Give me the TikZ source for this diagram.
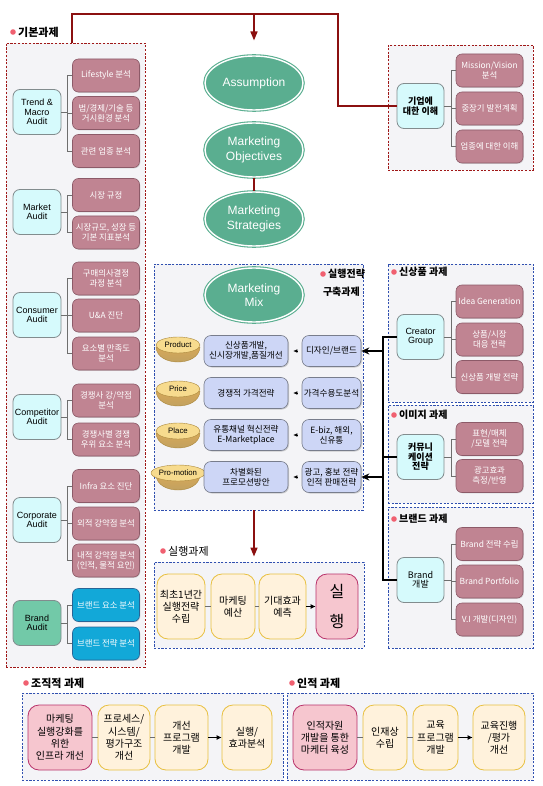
\documentclass[tikz,border=0pt]{standalone}
\usepackage{fontspec}
\setmainfont{Noto Sans CJK KR}
\setsansfont{Liberation Sans}
\usetikzlibrary{shapes.geometric,arrows.meta,shadows}

% colours, named after their RGB values
\definecolor{r139g16b16}{RGB}{139,16,16}
\definecolor{r160g24b24}{RGB}{160,24,24}
\definecolor{r48g80b176}{RGB}{48,80,176}
\definecolor{r244g244b247}{RGB}{244,244,247}
\definecolor{r90g174b144}{RGB}{90,174,144}
\definecolor{r192g132b146}{RGB}{192,132,146}
\definecolor{r140g90b104}{RGB}{140,90,104}
\definecolor{r214g250b252}{RGB}{214,250,252}
\definecolor{r130g140b142}{RGB}{130,140,142}
\definecolor{r205g214b246}{RGB}{205,214,246}
\definecolor{r120g125b140}{RGB}{120,125,140}
\definecolor{r255g242b220}{RGB}{255,242,220}
\definecolor{r232g192b64}{RGB}{232,192,64}
\definecolor{r246g198b207}{RGB}{246,198,207}
\definecolor{r184g50b106}{RGB}{184,50,106}
\definecolor{r114g201b168}{RGB}{114,201,168}
\definecolor{r18g168b216}{RGB}{18,168,216}
\definecolor{r40g100b150}{RGB}{40,100,150}
\definecolor{r247g219b142}{RGB}{247,219,142}
\definecolor{r214g168b88}{RGB}{214,168,88}
\definecolor{r170g135b60}{RGB}{170,135,60}
\definecolor{r240g96b112}{RGB}{240,96,112}
\definecolor{r110g110b110}{RGB}{110,110,110}

% font sizes
\newcommand\fsub{\fontsize{8.4}{10}\selectfont}
\newcommand\fnode{\fontsize{9}{9.5}\selectfont}
\newcommand\fell{\sffamily\fontsize{12}{14.5}\selectfont}
\newcommand\fttl{\fontsize{11}{13}\selectfont\bfseries}
\newcommand\fttr{\fontsize{10}{12}\selectfont\bfseries}
\newcommand\fmix{\fontsize{8.6}{10}\selectfont}
\newcommand\fexe{\fontsize{10}{12.2}\selectfont}
\newcommand\fbowl{\sffamily\fontsize{7.8}{8}\selectfont}

\begin{document}
\begin{tikzpicture}[x=1pt,y=-1pt,
  panel/.style={rectangle,fill=r244g244b247,line width=0.9pt,
    dash pattern=on 2.2pt off 1.5pt,inner sep=0pt},
  redpanel/.style={panel,draw=r160g24b24},
  bluepanel/.style={panel,draw=r48g80b176},
  ttl/.style={anchor=west,font=\fttl,inner sep=0pt},
  ttr/.style={ttl,font=\fttr},
  bul/.style={fill=r240g96b112},
  audit/.style={draw=r130g140b142,fill=r214g250b252,rounded corners=7pt,
    line width=0.8pt,minimum width=48,minimum height=45,align=center,
    font=\fnode,inner sep=0.3pt},
  eaudit/.style={audit,font=\sffamily\fnode},
  sub/.style={draw=r140g90b104,fill=r192g132b146,text=white,
    rounded corners=6pt,minimum width=67,minimum height=33,align=center,
    font=\fsub,inner sep=0.3pt,line width=0.6pt,
    drop shadow={shadow xshift=0.8pt,shadow yshift=-0.8pt,opacity=0.3}},
  bsub/.style={sub,draw=r40g100b150,fill=r18g168b216},
  mkt/.style={ellipse,fill=r90g174b144,draw=r90g174b144,double=white,
    double distance=1.4pt,line width=1.1pt,text=white,minimum width=98,
    minimum height=54,align=center,font=\fell,inner sep=0pt},
  mixbox/.style={draw=r120g125b140,fill=r205g214b246,rounded corners=7pt,
    minimum height=31,align=center,font=\fmix,inner sep=0.3pt,line width=0.6pt,
    drop shadow={shadow xshift=1pt,shadow yshift=-1pt,opacity=0.35}},
  bowltop/.style={ellipse,draw=r170g135b60,fill=r247g219b142,
    minimum width=44,minimum height=16,inner sep=0pt,font=\fbowl},
  bowlbody/.style={draw=r170g135b60,top color=r214g168b88,
    bottom color=r170g135b60!80},
  exe/.style={draw=r232g192b64,fill=r255g242b220,rounded corners=11pt,
    minimum height=65,align=center,font=\fexe,inner sep=0.3pt,line width=0.8pt},
  hot/.style={exe,draw=r184g50b106,fill=r246g198b207},
  brk/.style={draw=r110g110b110,line width=0.8pt},
  redln/.style={draw=r139g16b16,line width=1.6pt},
  blk/.style={draw=black,line width=1.2pt},
  redtip/.style={-{Triangle[length=9pt,width=7pt]}},
  blktip/.style={-{Stealth[length=8pt,width=7pt]}},
  smarr/.style={-{Latex[length=4pt,width=3.5pt]},draw=black,line width=0.5pt,
    shorten >=5pt,shorten <=5pt}]

% Bounding box
\useasboundingbox (0,0) rectangle (542,786);

% Drawing panels
\node[redpanel,minimum width=139,minimum height=624] (basic) at (75.5,355) {};
\node[redpanel,minimum width=145,minimum height=125] (corpp) at (460.5,107.5) {};
\node[bluepanel,minimum width=209,minimum height=246] (mixp) at (258.5,387) {};
\node[bluepanel,minimum width=145,minimum height=138] (newp) at (460.5,333) {};
\node[bluepanel,minimum width=145,minimum height=98] (imgp) at (460.5,454) {};
\node[bluepanel,minimum width=145,minimum height=141] (brdp) at (460.5,577.5) {};
\node[bluepanel,minimum width=210,minimum height=86] (exep) at (259,605) {};
\node[bluepanel,minimum width=261,minimum height=87] (orgp) at (152.5,736.5) {};
\node[bluepanel,minimum width=246,minimum height=87] (hump) at (410,736.5) {};

% Marking panel titles
\fill[bul] (13,32) circle (2.8);
\node[ttl] (tbasic) at (18,32) {기본과제};
\fill[bul] (323,274) circle (2.8);
\node[ttr] (tmix) at (328,274) {실행전략};
\node[ttr,anchor=east] (tmix2) at (360,292) {구축과제};
\fill[bul] (394,272) circle (2.8);
\node[ttr] (tnew) at (399,272) {신상품 과제};
\fill[bul] (394,415) circle (2.8);
\node[ttr] (timg) at (399,415) {이미지 과제};
\fill[bul] (394,519) circle (2.8);
\node[ttr] (tbrd) at (399,519) {브랜드 과제};
\fill[bul] (163,551) circle (2.8);
\node[ttl,font=\fontsize{11}{13}\selectfont] (texe) at (168,551) {실행과제};
\fill[bul] (26,683) circle (2.8);
\node[ttl] (torg) at (31,683) {조직적 과제};
\fill[bul] (292,683) circle (2.8);
\node[ttl] (thum) at (297,683) {인적 과제};

% Drawing left column (audits)
\node[eaudit] (trend) at (37,112) {Trend \&\\Macro\\Audit};
\node[eaudit] (market) at (37,212) {Market\\Audit};
\node[eaudit] (consum) at (37,315) {Consumer\\Audit};
\node[eaudit] (compet) at (37,417) {Competitor\\Audit};
\node[eaudit] (corpor) at (37,520) {Corporate\\Audit};
\node[eaudit,fill=r114g201b168] (brand) at (37,623) {Brand\\Audit};

\node[sub] (ls) at (106,75.5) {Lifestyle 분석};
\node[sub] (law) at (106,113) {법/경제/기술 등\\거시환경 분석};
\node[sub] (rel) at (106,151) {관련 업종 분석};
\node[sub] (mdef) at (106,195) {시장 규정};
\node[sub] (msize) at (106,232.5) {시장규모, 성장 등\\기본 지표분석};
\node[sub] (buy) at (106,278.5) {구매의사결정\\과정 분석};
\node[sub] (ua) at (106,315.5) {U\&A 진단};
\node[sub] (sat) at (106,353.5) {요소별 만족도\\분석};
\node[sub] (cstr) at (106,400.5) {경쟁사 강/약점\\분석};
\node[sub] (cadv) at (106,439.5) {경쟁사별 경쟁\\우위 요소 분석};
\node[sub] (infra) at (106,486) {Infra 요소 진단};
\node[sub] (ext) at (106,523.5) {외적 강약점 분석};
\node[sub] (int) at (106,560.5) {내적 강약점 분석\\(인적, 물적 요인)};
\node[bsub] (belem) at (106,605) {브랜드 요소 분석};
\node[bsub] (bstrat) at (106,643.5) {브랜드 전략 분석};

% Drawing brackets of left column
\coordinate (lb) at (67,0);
\draw[brk] (trend.east) -- (trend.east -| lb);
\draw[brk] (ls.west) -| (lb |- rel.west) -- (rel.west);
\draw[brk] (law.west) -- (law.west -| lb);
\draw[brk] (market.east) -- (market.east -| lb);
\draw[brk] (mdef.west) -| (lb |- msize.west) -- (msize.west);
\draw[brk] (consum.east) -- (consum.east -| lb);
\draw[brk] (buy.west) -| (lb |- sat.west) -- (sat.west);
\draw[brk] (ua.west) -- (ua.west -| lb);
\draw[brk] (compet.east) -- (compet.east -| lb);
\draw[brk] (cstr.west) -| (lb |- cadv.west) -- (cadv.west);
\draw[brk] (corpor.east) -- (corpor.east -| lb);
\draw[brk] (infra.west) -| (lb |- int.west) -- (int.west);
\draw[brk] (ext.west) -- (ext.west -| lb);
\draw[brk] (brand.east) -- (brand.east -| lb);
\draw[brk] (belem.west) -| (lb |- bstrat.west) -- (bstrat.west);

% Drawing top right (company)
\node[audit,minimum width=47,font=\fnode\bfseries] (corpund) at (420.5,106) {기업에\\대한 이해};
\node[sub] (mission) at (489.5,70.5) {Mission/Vision\\분석};
\node[sub] (midlong) at (489.5,108.5) {중장기 발전계획};
\node[sub] (indus) at (489.5,146.5) {업종에 대한 이해};
\coordinate (rb) at (451,0);
\draw[brk] (corpund.east) -- (corpund.east -| rb);
\draw[brk] (mission.west) -| (rb |- indus.west) -- (indus.west);
\draw[brk] (midlong.west) -- (midlong.west -| rb);

% Drawing central ellipses
\node[mkt] (assum) at (254,83) {Assumption};
\node[mkt] (obj) at (254,150) {Marketing\\Objectives};
\node[mkt] (strat) at (254,219) {Marketing\\Strategies};
\node[mkt] (mix) at (254,295) {Marketing\\Mix};

% Drawing red lines
\coordinate (rl) at (72,14);
\coordinate (rr) at (338,14);
\draw[redln] ([xshift=-3.5pt]basic.north) -- (rl) -- (rr) |- (corpund.west);
\draw[redln,redtip,shorten >=15pt] (rl -| assum) -- (assum.north);
\draw[redln] (obj) -- (strat);
\draw[redln,redtip,shorten >=5pt] (mixp.south -| mix) -- (exep.north -| mix);

% Drawing 4P bowls
\draw[bowlbody] (156,347) .. controls (157,367) and (199,367) .. (200,347) -- cycle;
\node[bowltop] (prod) at (178,345) {Product};
\draw[bowlbody] (156,391) .. controls (157,411) and (199,411) .. (200,391) -- cycle;
\node[bowltop] (price) at (178,389) {Price};
\draw[bowlbody] (156,433) .. controls (157,453) and (199,453) .. (200,433) -- cycle;
\node[bowltop] (place) at (178,431) {Place};
\draw[bowlbody] (156,475) .. controls (157,495) and (199,495) .. (200,475) -- cycle;
\node[bowltop] (promo) at (178,473) {Pro-motion};

% Drawing 4P boxes
\node[mixbox,minimum width=84] (pdev) at (246,351) {신상품개발,\\신시장개발,품질개선};
\node[mixbox,minimum width=59] (dsn) at (331.5,351) {디자인/브랜드};
\node[mixbox,minimum width=84] (pcomp) at (246,393) {경쟁적 가격전략};
\node[mixbox,minimum width=59] (pacc) at (331.5,393) {가격수용도분석};
\node[mixbox,minimum width=84] (chan) at (246,435) {유통채널 혁신전략\\E-Marketplace};
\node[mixbox,minimum width=59] (ebiz) at (331.5,435) {E-biz, 해외,\\신유통};
\node[mixbox,minimum width=84] (diff) at (246,477) {차별화된\\프로모션방안};
\node[mixbox,minimum width=59] (adv) at (331.5,477) {광고, 홍보 전략\\인적 판매전략};
\draw[smarr] (dsn) -- (pdev);
\draw[smarr] (pacc) -- (pcomp);
\draw[smarr] (ebiz) -- (chan);
\draw[smarr] (adv) -- (diff);

% Drawing right column
\node[eaudit,minimum width=47] (creator) at (420.5,337) {Creator\\Group};
\node[sub] (idea) at (489.5,301.5) {Idea Generation};
\node[sub] (pmkt) at (489.5,339.5) {상품/시장\\대응 전략};
\node[sub] (npd) at (489.5,377) {신상품 개발 전략};
\draw[brk] (creator.east) -- (creator.east -| rb);
\draw[brk] (idea.west) -| (rb |- npd.west) -- (npd.west);
\draw[brk] (pmkt.west) -- (pmkt.west -| rb);

\node[audit,minimum width=47,font=\fnode\bfseries] (comm) at (420.5,457) {커뮤니\\케이션\\전략};
\node[sub] (expr) at (489.5,439) {표현/매체\\/모델 전략};
\node[sub] (adeff) at (489.5,476) {광고효과\\측정/반영};
\draw[brk] (comm.east) -- (comm.east -| rb);
\draw[brk] (expr.west) -| (rb |- adeff.west) -- (adeff.west);

\node[audit,minimum width=47] (brdev) at (420.5,580) {Brand\\개발};
\node[sub] (bstr) at (489.5,544) {Brand 전략 수립};
\node[sub] (bport) at (489.5,581.5) {Brand Portfolio};
\node[sub] (vi) at (489.5,619.5) {V.I 개발(디자인)};
\draw[brk] (brdev.east) -- (brdev.east -| rb);
\draw[brk] (bstr.west) -| (rb |- vi.west) -- (vi.west);
\draw[brk] (bport.west) -- (bport.west -| rb);

% Drawing black feed lines
\coordinate (vx) at (383,0);
\draw[blk] (creator.west) -| (vx |- brdev.west) -- (brdev.west);
\draw[blk] (comm.west) -- (comm.west -| vx);
\draw[blk,blktip] (vx |- dsn) -- (dsn.east);
\draw[blk,blktip] (vx |- adv) -- (adv.east);

% Drawing execution row
\node[exe,minimum width=48] (e1) at (181,606.5) {최초1년간\\실행전략\\수립};
\node[exe,minimum width=44] (e2) at (233,606.5) {마케팅\\예산};
\node[exe,minimum width=47] (e3) at (282.5,606.5) {기대효과\\예측};
\node[hot,minimum width=42,font=\fontsize{16}{30}\selectfont] (e4) at (337,606.5) {실\\행};
\draw[brk] (e1) -- (e2);
\draw[brk] (e2) -- (e3);
\draw[-{Latex[length=5pt,width=5pt]},line width=0.8pt] (e3) -- (e4);

% Drawing organisation row
\node[hot,minimum width=64] (o1) at (60,737.5) {마케팅\\실행강화를\\위한\\인프라 개선};
\node[exe,minimum width=52] (o2) at (124,737.5) {프로세스/\\시스템/\\평가구조\\개선};
\node[exe,minimum width=53] (o3) at (181.5,737.5) {개선\\프로그램\\개발};
\node[exe,minimum width=50] (o4) at (247,737.5) {실행/\\효과분석};
\draw[brk] (o1) -- (o2);
\draw[brk] (o2) -- (o3);
\draw[-{Latex[length=5pt,width=5pt]},line width=0.8pt] (o3) -- (o4);

% Drawing human resource row
\node[hot,minimum width=64] (h1) at (325,737.5) {인적자원\\개발을 통한\\마케터 육성};
\node[exe,minimum width=44] (h2) at (385,737.5) {인재상\\수립};
\node[exe,minimum width=45] (h3) at (435.5,737.5) {교육\\프로그램\\개발};
\node[exe,minimum width=52] (h4) at (499,737.5) {교육진행\\/평가\\개선};
\draw[brk] (h1) -- (h2);
\draw[brk] (h2) -- (h3);
\draw[-{Latex[length=5pt,width=5pt]},line width=0.8pt] (h3) -- (h4);
\end{tikzpicture}
\end{document}
